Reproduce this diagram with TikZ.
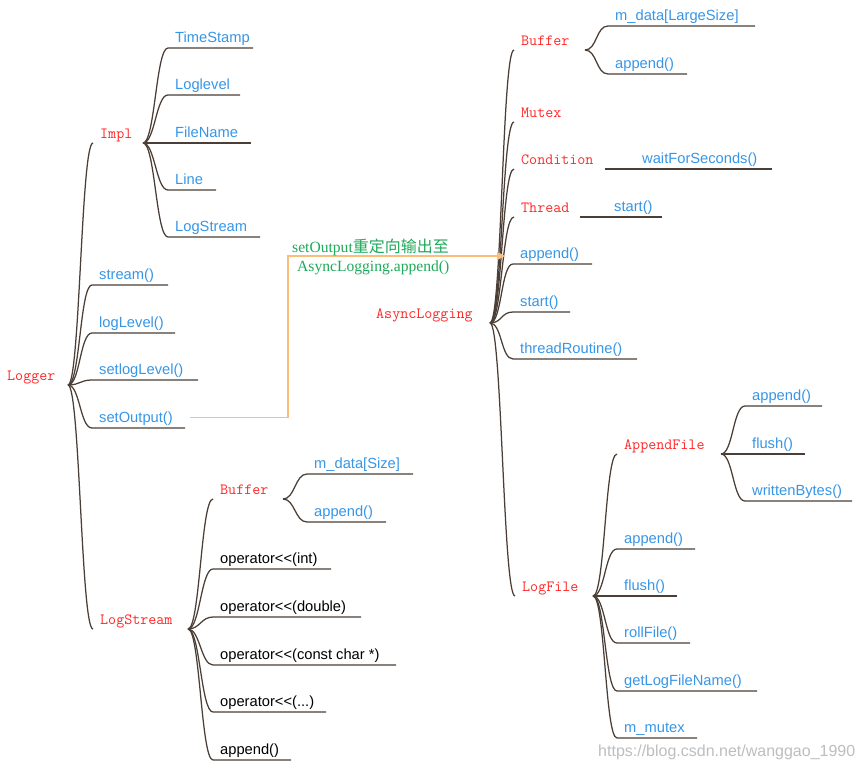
\documentclass[tikz,border=0pt]{standalone}
\usepackage{fontspec}
\newfontfamily\leaffont{Liberation Sans}
\newfontfamily\notefont{Liberation Serif}
\newfontfamily\cjkfont{Noto Sans CJK SC}
\definecolor{mmline}{RGB}{74,62,54}
\definecolor{mmred}{RGB}{255,40,40}
\definecolor{mmblue}{RGB}{55,150,230}
\definecolor{mmgreen}{RGB}{30,170,90}
\definecolor{mmorange}{RGB}{250,190,120}
\definecolor{mmgray}{RGB}{190,190,190}
\usetikzlibrary{arrows.meta}

\tikzset{
  branch/.style={draw=mmline, line width=1.25pt},
  twig/.style={to path={.. controls +(12,0) and +(-12,0) .. (\tikztotarget)}},
  topic/.style={font=\ttfamily\fontsize{15.6}{18}\selectfont, text=mmred, anchor=south west,
    inner xsep=7pt, inner ysep=4pt, text height=9pt, text depth=0pt},
  leaf/.style={font=\leaffont\fontsize{14.7}{17}\selectfont, text=mmblue, anchor=south west,
    inner xsep=7pt, inner ysep=5pt, text height=11pt, text depth=0pt},
  op/.style={leaf, text=black},
  note/.style={font=\notefont\fontsize{15.6}{18}\selectfont, text=mmgreen, anchor=base west, inner sep=0pt},
  redir/.style={draw=mmorange, line width=1.3pt, -{Triangle[length=8pt,width=8pt]}},
}

\begin{document}
\begin{tikzpicture}[x=1pt,y=-1pt]
  \useasboundingbox[fill=white] (0,0) rectangle (864,770);

  %% Logger
  \node[topic] (logger) at (0,385) {Logger};
  \coordinate (lgj) at (68,385);
  \node[topic] (impl) at (93,143) {Impl};
  \coordinate (ij) at (143,143);
  \node[leaf] (stream) at (92,285) {stream()};
  \node[leaf] (loglevel) at (92,333) {logLevel()};
  \node[leaf] (setlevel) at (92,380) {setlogLevel()};
  \node[leaf] (setout) at (92,428) {setOutput()};
  \node[topic] (lstream) at (93,629) {LogStream};
  \coordinate (lsj) at (188,629);
  \draw[branch] (lgj) to[twig] (impl.south west);
  \draw[branch] (lgj) to[twig] (stream.south west) -- ++(76,0);
  \draw[branch] (lgj) to[twig] (loglevel.south west) -- ++(83,0);
  \draw[branch] (lgj) to[twig] (setlevel.south west) -- ++(106,0);
  \draw[branch] (lgj) to[twig] (setout.south west) -- ++(93,0);
  \draw[branch] (lgj) to[twig] (lstream.south west);

  %% Impl
  \node[leaf] (tstamp) at (168,48) {TimeStamp};
  \node[leaf] (ilevel) at (168,95) {Loglevel};
  \node[leaf] (fname) at (168,143) {FileName};
  \node[leaf] (line) at (168,190) {Line};
  \node[leaf] (istream) at (168,237) {LogStream};
  \draw[branch] (ij) to[twig] (tstamp.south west) -- ++(85,0);
  \draw[branch] (ij) to[twig] (ilevel.south west) -- ++(72,0);
  \draw[branch] (ij) to[twig] (fname.south west) -- ++(83,0);
  \draw[branch] (ij) to[twig] (line.south west) -- ++(48,0);
  \draw[branch] (ij) to[twig] (istream.south west) -- ++(92,0);

  %% LogStream
  \node[topic] (sbuf) at (213,499) {Buffer};
  \coordinate (sbj) at (283,499);
  \node[leaf] (sdata) at (307,474) {m\_data[Size]};
  \node[leaf] (sbapp) at (307,522) {append()};
  \node[op] (opint) at (213,569) {operator<{}<(int)};
  \node[op] (opdbl) at (213,617) {operator<{}<(double)};
  \node[op] (opchr) at (213,665) {operator<{}<(const char *)};
  \node[op] (opetc) at (213,712) {operator<{}<(...)};
  \node[op] (sapp) at (213,760) {append()};
  \draw[branch] (lsj) to[twig] (sbuf.south west);
  \draw[branch] (sbj) to[twig] (sdata.south west) -- ++(106,0);
  \draw[branch] (sbj) to[twig] (sbapp.south west) -- ++(79,0);
  \draw[branch] (lsj) to[twig] (opint.south west) -- ++(118,0);
  \draw[branch] (lsj) to[twig] (opdbl.south west) -- ++(148,0);
  \draw[branch] (lsj) to[twig] (opchr.south west) -- ++(183,0);
  \draw[branch] (lsj) to[twig] (opetc.south west) -- ++(113,0);
  \draw[branch] (lsj) to[twig] (sapp.south west) -- ++(78,0);

  %% AsyncLogging
  \node[topic] (async) at (369,323) {AsyncLogging};
  \coordinate (aj) at (490,323);
  \node[topic] (abuf) at (514,50) {Buffer};
  \coordinate (abj) at (585,50);
  \node[leaf] (adata) at (608,26) {m\_data[LargeSize]};
  \node[leaf] (abapp) at (608,74) {append()};
  \node[topic] (mutex) at (514,122) {Mutex};
  \node[topic] (cond) at (514,169) {Condition};
  \node[leaf] (wait) at (635,169) {waitForSeconds()};
  \node[topic] (thread) at (514,217) {Thread};
  \node[leaf] (tstart) at (607,217) {start()};
  \node[leaf] (aapp) at (513,264) {append()};
  \node[leaf] (astart) at (513,312) {start()};
  \node[leaf] (aroutine) at (513,359) {threadRoutine()};
  \node[topic] (lfile) at (515,596) {LogFile};
  \coordinate (lfj) at (593,596);
  \draw[branch] (aj) to[twig] (abuf.south west);
  \draw[branch] (abj) to[twig] (adata.south west) -- ++(147,0);
  \draw[branch] (abj) to[twig] (abapp.south west) -- ++(79,0);
  \draw[branch] (aj) to[twig] (mutex.south west);
  \draw[branch] (aj) to[twig] (cond.south west);
  \draw[branch] ([xshift=4pt]cond.south east) -- (wait.south west) -- ++(137,0);
  \draw[branch] (aj) to[twig] (thread.south west);
  \draw[branch] ([xshift=3pt]thread.south east) -- (tstart.south west) -- ++(55,0);
  \draw[branch] (aj) to[twig] (aapp.south west) -- ++(79,0);
  \draw[branch] (aj) to[twig] (astart.south west) -- ++(57,0);
  \draw[branch] (aj) to[twig] (aroutine.south west) -- ++(124,0);
  \draw[branch] (aj) to[twig] (lfile.south west);

  %% LogFile
  \node[topic] (afile) at (617,454) {AppendFile};
  \coordinate (afj) at (721,454);
  \node[leaf] (fapp) at (745,406) {append()};
  \node[leaf] (fflush) at (745,454) {flush()};
  \node[leaf] (fbytes) at (745,501) {writtenBytes()};
  \node[leaf] (lapp) at (617,549) {append()};
  \node[leaf] (lflush) at (617,596) {flush()};
  \node[leaf] (lroll) at (617,643) {rollFile()};
  \node[leaf] (lname) at (617,691) {getLogFileName()};
  \node[leaf] (lmutex) at (617,738) {m\_mutex};
  \draw[branch] (lfj) to[twig] (afile.south west);
  \draw[branch] (afj) to[twig] (fapp.south west) -- ++(77,0);
  \draw[branch] (afj) to[twig] (fflush.south west) -- ++(60,0);
  \draw[branch] (afj) to[twig] (fbytes.south west) -- ++(107,0);
  \draw[branch] (lfj) to[twig] (lapp.south west) -- ++(78,0);
  \draw[branch] (lfj) to[twig] (lflush.south west) -- ++(60,0);
  \draw[branch] (lfj) to[twig] (lroll.south west) -- ++(73,0);
  \draw[branch] (lfj) to[twig] (lname.south west) -- ++(140,0);
  \draw[branch] (lfj) to[twig] (lmutex.south west) -- ++(80,0);

  %% setOutput redirect
  \coordinate (redirect) at (505,256);
  \draw[redir] ([xshift=10pt]setout.east) -- ++(98,0) |- (redirect);
  \node[note] (note1) at (292,252) {setOutput{\cjkfont\fontsize{16}{18}\selectfont 重定向输出至}};
  \node[note] (note2) at (297,271) {AsyncLogging.append()};

  \node[font=\leaffont\fontsize{16}{18}\selectfont, text=mmgray, anchor=base west, inner sep=0pt]
    (mark) at (598,756) {https://blog.csdn.net/wanggao\_1990};
\end{tikzpicture}
\end{document}
